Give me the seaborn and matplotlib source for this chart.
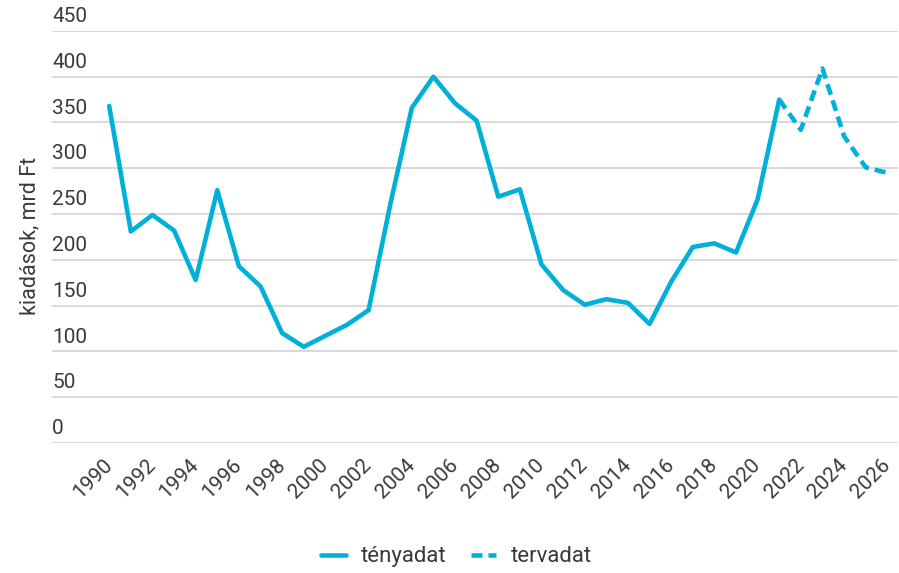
import numpy as np
import pandas as pd
import matplotlib
matplotlib.use("Agg")
import matplotlib.pyplot as plt
import matplotlib.transforms as mtransforms
import seaborn as sns

# adatok (leolvasva)
evek_teny = list(range(1990, 2022))
tenyadat = [368, 231, 249, 232, 178, 276, 193, 171, 120, 105, 117, 129, 145, 260,
            366, 400, 371, 352, 269, 277, 195, 167, 151, 157, 153, 130, 176, 214,
            218, 208, 266, 375]
evek_terv = list(range(2021, 2027))
tervadat = [375, 342, 409, 335, 301, 295]

x_ticks = list(range(1990, 2027, 2))
y_ticks = list(range(0, 451, 50))

szin = "#00B0D8"
szoveg = "#3a3a3a"

sns.set_theme(style="white")
plt.rcParams["font.family"] = ["Roboto", "DejaVu Sans"]

df_teny = pd.DataFrame({"ev": evek_teny, "ertek": tenyadat})
df_terv = pd.DataFrame({"ev": evek_terv, "ertek": tervadat})

fig = plt.figure(figsize=(8.99, 5.73), dpi=100)
ax = fig.add_axes([0.058, 0.227, 0.941, 0.719])

sns.lineplot(data=df_teny, x="ev", y="ertek", ax=ax, color=szin, lw=3.3,
             label="tényadat")
sns.lineplot(data=df_terv, x="ev", y="ertek", ax=ax, color=szin, lw=3.3,
             dashes=False, label="tervadat")
ax.lines[1].set_dashes((2.4, 1.3))

ax.set_xlim(1987.36, 2026.5)
ax.set_ylim(0, 450)

for s in ax.spines.values():
    s.set_visible(False)

ax.set_yticks(y_ticks)
ax.set_yticklabels([])
ax.yaxis.grid(True, color="#d9d9d9", lw=1.4)
ax.xaxis.grid(False)
ax.set_axisbelow(True)
ax.tick_params(axis="y", length=0)

# y feliratok a vonalak fölött, balra igazítva
trans = mtransforms.offset_copy(ax.get_yaxis_transform(), fig=fig, y=3.5, units="points")
for v in y_ticks:
    ax.text(0.0, v, str(v), transform=trans, ha="left", va="bottom",
            fontsize=15, color=szoveg)

ax.set_xticks(x_ticks)
ax.set_xticklabels([str(x) for x in x_ticks], rotation=45, ha="right",
                   va="center", rotation_mode="anchor", fontsize=15, color=szoveg)
ax.tick_params(axis="x", length=0, pad=14)

ax.set_xlabel("")
ax.set_ylabel("kiadások, mrd Ft", fontsize=15.5, color=szoveg)
ax.yaxis.set_label_coords(-0.0135, 0.502)

ax.legend(loc="center", bbox_to_anchor=(0.508, 0.028), bbox_transform=fig.transFigure,
          ncol=2, frameon=False, fontsize=16, handlelength=1.1, handletextpad=0.7,
          columnspacing=1.1, labelcolor=szoveg)

fig.savefig("out.png", dpi=100)
